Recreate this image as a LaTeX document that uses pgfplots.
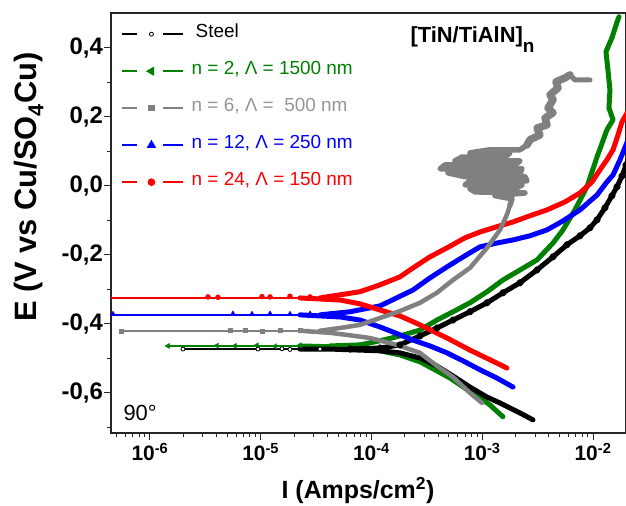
\documentclass[border=0pt]{standalone}
\usepackage{pgfplots}
\pgfplotsset{compat=1.18}
\usepackage{fontspec}
\setmainfont{Liberation Sans}
\definecolor{cgreen}{RGB}{0,128,0}
\definecolor{cgray}{RGB}{128,128,128}
\definecolor{cgraytxt}{RGB}{150,150,150}
\definecolor{cblue}{RGB}{0,0,255}
\definecolor{cred}{RGB}{255,0,0}
\begin{document}
\begin{tikzpicture}
\useasboundingbox (-111bp,-73bp) rectangle (515bp,433bp);
\begin{axis}[
 at={(0,0)}, anchor=south west,
 scale only axis, width=515bp, height=420bp,
 xmin=-6.352, xmax=-1.702, ymin=-0.716, ymax=0.5,
 axis line style={line width=1.2bp, black!85},
 tick align=outside, xtick pos=left, ytick pos=left,
 major tick length=7bp, minor tick length=4bp,
 every tick/.style={black!85, line width=1bp},
 xtick={-6,-5,-4,-3,-2},
 xticklabels={10\textsuperscript{-6},10\textsuperscript{-5},10\textsuperscript{-4},10\textsuperscript{-3},10\textsuperscript{-2}},
 minor xtick={-6.301,-6.222,-6.155,-6.097,-6.046,
 -5.699,-5.523,-5.398,-5.301,-5.222,-5.155,-5.097,-5.046,
 -4.699,-4.523,-4.398,-4.301,-4.222,-4.155,-4.097,-4.046,
 -3.699,-3.523,-3.398,-3.301,-3.222,-3.155,-3.097,-3.046,
 -2.699,-2.523,-2.398,-2.301,-2.222,-2.155,-2.097,-2.046},
 ytick={-0.6,-0.4,-0.2,0,0.2,0.4},
 yticklabels={{-0,6},{-0,4},{-0,2},{0,0},{0,2},{0,4}},
 minor ytick={-0.7,-0.5,-0.3,-0.1,0.1,0.3},
 yticklabel style={font=\fontsize{24}{24}\selectfont\bfseries, inner sep=1bp},
 xticklabel style={font=\fontsize{21}{21}\selectfont\bfseries, inner sep=3bp},
 legend image code/.code={
   \draw[#1, dash pattern=on 15bp off 26bp on 30bp off 10bp, mark repeat=2, mark phase=2]
     plot coordinates {(0bp,3bp) (29bp,3bp) (61bp,3bp)};},
 legend cell align=left,
 legend style={draw=none, fill=none, at={(0,1)}, anchor=north west,
   xshift=10bp, yshift=-10bp, inner sep=0pt, row sep=19bp, column sep=7bp,
   nodes={inner sep=0pt, text height=14bp, text depth=4bp, anchor=base west},
   font=\fontsize{19}{22}\selectfont},
 thickb/.style={line width=5bp, line join=round, line cap=round},
 thinb/.style={line width=2.5bp},
]
\addlegendimage{black, line width=2.5bp, mark=*, mark size=2bp, mark options={solid, fill=white, draw=black, line width=0.8bp}}
\addlegendentry{\hspace{4bp}Steel}
\addlegendimage{cgreen, line width=2.5bp, mark=triangle*, mark size=3bp, mark options={solid, rotate=90}}
\addlegendentry{\textcolor{cgreen}{n = 2, Λ = 1500 nm}}
\addlegendimage{cgray, line width=2.5bp, mark=square*, mark size=2bp, mark options={solid}}
\addlegendentry{\textcolor{cgraytxt}{n = 6, Λ = \ 500 nm}}
\addlegendimage{cblue, line width=2.5bp, mark=triangle*, mark size=3bp, mark options={solid}}
\addlegendentry{\textcolor{cblue}{n = 12, Λ = 250 nm}}
\addlegendimage{cred, line width=2.5bp, mark=*, mark size=2.5bp, mark options={solid}}
\addlegendentry{\textcolor{cred}{n = 24, Λ = 150 nm}}

% ---- n = 2 (green)
\addplot[cgreen, thinb, forget plot] coordinates {(-4.646,-0.464) (-5.837,-0.464)};
\addplot[cgreen, only marks, mark=triangle*, mark size=3bp, mark options={rotate=90}, forget plot] coordinates {(-5.837,-0.464) (-5.395,-0.463) (-5.233,-0.464) (-5.034,-0.462) (-4.871,-0.465) (-4.646,-0.462)};
\addplot[cgreen, thickb, forget plot] coordinates {(-2.813,-0.669) (-2.930,-0.635) (-3.020,-0.614) (-3.156,-0.586) (-3.291,-0.557) (-3.427,-0.533) (-3.562,-0.510) (-3.743,-0.490) (-3.923,-0.478) (-4.104,-0.470) (-4.284,-0.467) (-4.646,-0.464)};
\addplot[cgreen, thickb, forget plot] coordinates {(-4.375,-0.464) (-4.104,-0.461) (-3.923,-0.449) (-3.743,-0.435) (-3.562,-0.418) (-3.409,-0.389) (-3.264,-0.365) (-3.111,-0.339) (-2.957,-0.307) (-2.813,-0.273) (-2.659,-0.244) (-2.506,-0.215) (-2.361,-0.166) (-2.271,-0.128) (-2.163,-0.070) (-2.054,-0.003) (-1.964,0.083) (-1.874,0.162) (-1.819,0.191) (-1.856,0.225) (-1.847,0.277) (-1.865,0.335) (-1.883,0.388) (-1.829,0.428) (-1.783,0.474) (-1.765,0.489)};

% ---- Steel (black)
\addplot[black, thinb, forget plot] coordinates {(-4.646,-0.473) (-5.702,-0.473)};
\addplot[black, only marks, mark=*, mark size=2bp, mark options={fill=white, draw=black, line width=0.8bp}, forget plot] coordinates {(-5.702,-0.473) (-5.025,-0.473) (-4.808,-0.472) (-4.736,-0.474) (-4.465,-0.473)};
\addplot[black, thickb, forget plot] coordinates {(-2.542,-0.678) (-2.659,-0.658) (-2.840,-0.629) (-2.957,-0.612) (-3.111,-0.583) (-3.264,-0.551) (-3.409,-0.522) (-3.562,-0.499) (-3.743,-0.484) (-3.923,-0.478) (-4.104,-0.476) (-4.375,-0.473) (-4.646,-0.473)};
\addplot[black, thickb, mark=*, mark size=1.1bp, mark options={fill=white, draw=none}, forget plot] coordinates {(-4.194,-0.473) (-3.923,-0.470) (-3.743,-0.461) (-3.562,-0.435) (-3.409,-0.412) (-3.264,-0.389) (-3.111,-0.365) (-2.957,-0.339) (-2.813,-0.310) (-2.659,-0.281) (-2.506,-0.244) (-2.361,-0.206) (-2.235,-0.171) (-2.117,-0.145) (-2.027,-0.122) (-1.964,-0.099) (-1.892,-0.064) (-1.829,-0.029) (-1.783,-0.003) (-1.738,0.028) (-1.702,0.060) (-1.648,0.104)};

% ---- n = 12 (blue)
\addplot[cblue, thinb, forget plot] coordinates {(-4.646,-0.374) (-6.400,-0.374)};
\addplot[cblue, only marks, mark=triangle*, mark size=3bp, forget plot] coordinates {(-6.334,-0.372) (-5.251,-0.371) (-5.079,-0.372) (-4.916,-0.371) (-4.736,-0.372) (-4.555,-0.371) (-4.375,-0.373)};
\addplot[cblue, thickb, forget plot] coordinates {(-2.722,-0.583) (-2.867,-0.557) (-3.020,-0.533) (-3.174,-0.507) (-3.318,-0.484) (-3.472,-0.464) (-3.625,-0.447) (-3.788,-0.426) (-3.923,-0.409) (-4.104,-0.389) (-4.284,-0.380) (-4.646,-0.374)};
\addplot[cblue, thickb, forget plot] coordinates {(-4.465,-0.374) (-4.194,-0.365) (-3.923,-0.348) (-3.625,-0.302) (-3.472,-0.267) (-3.318,-0.235) (-3.156,-0.203) (-3.020,-0.177) (-2.867,-0.166) (-2.722,-0.157) (-2.569,-0.145) (-2.415,-0.128) (-2.271,-0.102) (-2.117,-0.070) (-1.964,-0.027) (-1.874,0.011) (-1.819,0.031) (-1.756,0.075) (-1.702,0.118) (-1.650,0.160)};

% ---- n = 24 (red)
\addplot[cred, thinb, forget plot] coordinates {(-4.646,-0.325) (-6.400,-0.325)};
\addplot[cred, only marks, mark=*, mark size=2.5bp, forget plot] coordinates {(-5.476,-0.322) (-5.386,-0.323) (-4.989,-0.321) (-4.916,-0.322) (-4.736,-0.320) (-4.555,-0.322) (-4.375,-0.321)};
\addplot[cred, thickb, forget plot] coordinates {(-2.777,-0.528) (-2.930,-0.504) (-3.111,-0.476) (-3.318,-0.441) (-3.562,-0.403) (-3.743,-0.377) (-3.923,-0.360) (-4.104,-0.342) (-4.284,-0.331) (-4.646,-0.325)};
\addplot[cred, thickb, forget plot] coordinates {(-4.465,-0.325) (-4.284,-0.316) (-4.104,-0.307) (-3.923,-0.287) (-3.743,-0.264) (-3.625,-0.238) (-3.472,-0.206) (-3.318,-0.180) (-3.156,-0.151) (-3.020,-0.134) (-2.840,-0.116) (-2.722,-0.105) (-2.569,-0.087) (-2.415,-0.070) (-2.253,-0.047) (-2.117,-0.021) (-2.009,0.011) (-1.937,0.046) (-1.874,0.075) (-1.819,0.104) (-1.774,0.147) (-1.738,0.185) (-1.702,0.205) (-1.660,0.230)};

% ---- n = 6 (gray)
\addplot[cgray, thinb, forget plot] coordinates {(-4.646,-0.420) (-6.262,-0.420)};
\addplot[cgray, only marks, mark=square*, mark size=2bp, forget plot] coordinates {(-6.262,-0.420) (-5.278,-0.419) (-5.142,-0.418) (-4.989,-0.420) (-4.826,-0.417) (-4.646,-0.419)};
\addplot[cgray, thickb, line width=4.5bp, forget plot] coordinates {(-3.002,-0.629) (-3.111,-0.600) (-3.264,-0.554) (-3.409,-0.522) (-3.562,-0.484) (-3.770,-0.461) (-4.014,-0.441) (-4.221,-0.432) (-4.375,-0.426) (-4.646,-0.420)};
\addplot[cgray, thickb, line width=4.5bp, forget plot] coordinates {(-4.465,-0.420) (-4.284,-0.412) (-4.104,-0.403) (-3.923,-0.383) (-3.743,-0.363) (-3.562,-0.339) (-3.409,-0.310) (-3.264,-0.273) (-3.111,-0.238) (-2.957,-0.180) (-2.840,-0.128) (-2.777,-0.084) (-2.749,-0.056)};
\addplot[cgray, line width=5.5bp, line join=round, line cap=round, forget plot] coordinates {(-2.749,-0.056)
 (-2.731,-0.038) (-2.885,-0.029) (-2.614,-0.021) (-3.065,-0.018) (-3.111,-0.009) (-2.704,-0.009) (-2.641,0.002) (-3.156,0.002) (-3.111,0.014) (-2.596,0.014) (-2.614,0.026) (-3.156,0.026) (-3.309,0.037) (-2.659,0.037) (-2.641,0.049) (-3.381,0.049) (-3.336,0.060) (-2.704,0.060) (-2.659,0.072) (-3.246,0.072) (-3.183,0.083) (-2.795,0.083) (-2.749,0.095) (-3.111,0.095) (-2.930,0.104) (-2.659,0.104) (-2.596,0.118)};
\addplot[cgray, line width=7.5bp, line join=round, line cap=round, forget plot] coordinates {(-2.596,0.118)
 (-2.569,0.133) (-2.479,0.147) (-2.506,0.167) (-2.415,0.176) (-2.433,0.196) (-2.361,0.211) (-2.406,0.225) (-2.361,0.249) (-2.388,0.263) (-2.316,0.283) (-2.334,0.301) (-2.253,0.312) (-2.208,0.321)};
\addplot[cgray, line width=5bp, line join=round, line cap=round, forget plot] coordinates {(-2.208,0.321) (-2.163,0.306) (-2.072,0.306) (-2.027,0.306)};
\end{axis}
\node[anchor=base, font=\fontsize{25}{25}\selectfont\bfseries] at (247bp,-65bp) {I (Amps/cm\textsuperscript{2})};
\node[anchor=base, rotate=90, font=\fontsize{31}{31}\selectfont\bfseries] at (-74bp,246bp) {E (V vs Cu/SO\textsubscript{4}Cu)};
\node[anchor=base west, font=\fontsize{22}{22}\selectfont] at (9bp,13bp) {90°};
\node[anchor=base west, font=\fontsize{22}{22}\selectfont\bfseries] at (296bp,390bp) {[TiN/TiAlN]\raisebox{-10bp}{\fontsize{19}{19}\selectfont n}};
\end{tikzpicture}
\end{document}
